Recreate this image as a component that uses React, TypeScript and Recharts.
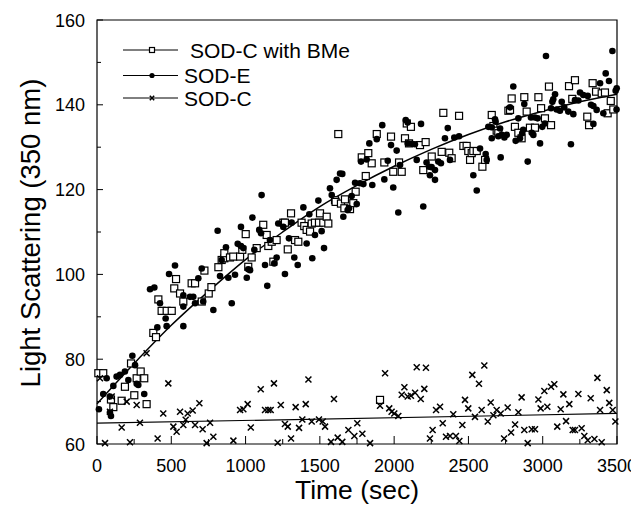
import React from "react";
import {
  ComposedChart,
  Scatter,
  Line,
  XAxis,
  YAxis,
  Label,
  Legend,
  ReferenceArea,
} from "recharts";

const FONT = "'Liberation Sans', Arial, Helvetica, sans-serif";

const seriesNames = ["SOD-C with BMe", "SOD-E", "SOD-C"];
const xTicks = [0, 250, 500, 750, 1000, 1250, 1500, 1750, 2000, 2250, 2500, 2750, 3000, 3250, 3500];
const yTicks = [60, 70, 80, 90, 100, 110, 120, 130, 140, 150, 160];

// [time (sec), light scattering]
const sodCBme: [number, number][] = [
  [9, 76.7], [42, 76.7], [94, 70.5], [110, 68.7], [166, 70.2], [188, 73.5], [229, 79], [251, 71.5],
  [267, 75.5], [294, 77.1], [318, 75.5], [334, 69.4], [379, 86.2], [397, 85.2], [413, 94.1], [435, 91.4],
  [469, 91.4], [503, 91.4], [520, 96.7], [532, 98.9], [559, 95.5], [581, 93.6], [637, 97.9], [660, 97.9],
  [705, 93.6], [723, 100.9], [752, 95.5], [770, 97], [817, 101.7], [839, 103.4], [857, 103.8], [857, 105],
  [895, 104], [917, 104.2], [963, 104.2], [978, 105.8], [1001, 109.5], [1018, 101.8], [1041, 104],
  [1075, 106.2], [1119, 111.7], [1142, 109.3], [1153, 106.7], [1176, 107.7], [1187, 103], [1209, 108.1],
  [1254, 112.2], [1265, 112.2], [1284, 105.9], [1306, 114.4], [1333, 108.1], [1355, 107.7], [1377, 112.2],
  [1395, 111.4], [1411, 110.5], [1434, 110.1], [1445, 112], [1467, 112.2], [1494, 112.2], [1501, 114.4],
  [1523, 112.2], [1546, 113.6], [1557, 112], [1602, 117.5], [1606, 117.1], [1624, 133.1], [1642, 116.7],
  [1665, 115.6], [1669, 117.7], [1703, 115.4], [1725, 116.8], [1741, 119.5], [1782, 127.6], [1809, 123.2],
  [1826, 128.6], [1849, 126.2], [1883, 133.1], [1905, 70.4], [1934, 126.4], [1979, 132.5], [1994, 124.2],
  [2033, 126.4], [2051, 124.2], [2073, 132.1], [2085, 135.6], [2100, 130.9], [2113, 134.8], [2174, 130.5],
  [2196, 124.6], [2212, 131.2], [2253, 127.8], [2320, 128.9], [2331, 138.1], [2371, 128.7], [2387, 127.4],
  [2437, 137.4], [2466, 130.3], [2488, 130.3], [2499, 129.1], [2511, 127], [2522, 128.6], [2533, 129.1],
  [2556, 129.1], [2594, 125.4], [2612, 127], [2657, 137.6], [2668, 135], [2690, 133.9], [2701, 133.3],
  [2769, 138.6], [2780, 138.8], [2791, 141.5], [2813, 134.8], [2836, 133.4], [2858, 132.1], [2876, 141.8],
  [2892, 138.4], [2914, 134.6], [2948, 134.6], [2971, 141.8], [2989, 139.2], [3015, 136.8], [3042, 144.3],
  [3056, 135.2], [3177, 144.4], [3199, 141.4], [3217, 145.8], [3300, 137.2], [3312, 135.2], [3336, 145.1],
  [3359, 143.1], [3397, 142.7], [3419, 142.9], [3437, 138], [3458, 140.9], [3475, 138.9],
];

const sodE: [number, number][] = [
  [13, 68.2], [42, 71.8], [65, 75.5], [87, 71.2], [87, 67.4], [94, 66.6], [110, 73.7], [132, 75.9],
  [155, 76.3], [188, 77.1], [211, 75.1], [238, 80.8], [256, 78.6], [267, 74.2], [278, 73.9], [318, 71.8],
  [357, 96.5], [386, 96.9], [406, 87.5], [424, 93.2], [462, 89.6], [469, 87.8], [485, 100.1], [525, 102.1],
  [581, 95.1], [581, 92.4], [581, 87.8], [626, 94.7], [648, 94.7], [660, 93.2], [682, 99.1], [705, 101.4],
  [715, 93.6], [783, 91.6], [812, 110.3], [828, 99.6], [839, 103.4], [868, 106.4], [884, 99.2], [907, 93.2],
  [929, 99.9], [947, 107.2], [969, 106.7], [969, 111.2], [985, 106.2], [1008, 99.2], [1018, 101.2],
  [1030, 101], [1046, 113.4], [1059, 105.8], [1092, 110.5], [1104, 109.7], [1108, 118.7], [1131, 102.2],
  [1146, 97.3], [1164, 108.1], [1193, 102.6], [1209, 104], [1220, 112], [1254, 111.2], [1265, 100.1],
  [1292, 108.5], [1310, 112.2], [1328, 104], [1351, 102.2], [1389, 115.8], [1411, 107.3], [1429, 114.2],
  [1449, 103.8], [1467, 109.3], [1490, 117.4], [1512, 110.2], [1528, 106.2], [1568, 120.3], [1580, 118.7],
  [1613, 122.3], [1636, 123.8], [1651, 123.7], [1658, 113.6], [1687, 115.2], [1696, 115.6], [1714, 118.5],
  [1737, 121.6], [1748, 116.6], [1770, 121.5], [1777, 126.6], [1793, 121.3], [1815, 127.1], [1833, 130.9],
  [1853, 121.1], [1883, 131.9], [1920, 135.2], [1934, 122.4], [1957, 126.8], [1979, 130.5], [1994, 120.5],
  [2017, 129.2], [2028, 114.6], [2039, 125.8], [2078, 136.4], [2091, 135.8], [2091, 130.9], [2118, 130.8],
  [2140, 130.7], [2152, 127], [2181, 135.5], [2196, 116], [2218, 126.4], [2235, 125.4], [2241, 123.4],
  [2252, 125.3], [2275, 124.6], [2275, 122.3], [2297, 126.6], [2315, 126.2], [2342, 132.1], [2361, 134.5],
  [2376, 127], [2405, 132.3], [2437, 132.6], [2533, 123.4], [2556, 119.8], [2578, 129.7], [2616, 128.4],
  [2623, 127], [2634, 134.8], [2657, 134.7], [2657, 132.1], [2679, 136.6], [2683, 136], [2701, 132.6],
  [2713, 134.4], [2717, 127.6], [2724, 132.9], [2742, 132.3], [2758, 132.9], [2780, 139.4], [2802, 144.3],
  [2818, 131.5], [2836, 136.8], [2847, 132.1], [2862, 133.3], [2869, 134.1], [2876, 140.2], [2899, 126.6],
  [2921, 137], [2926, 133.4], [2937, 132.9], [2948, 137], [2966, 136.8], [2982, 130.9], [2997, 134.8],
  [3015, 135.6], [3022, 151.5], [3056, 139.2], [3065, 140.7], [3071, 141.3], [3083, 142.5], [3094, 138.9],
  [3116, 138.6], [3128, 140.7], [3145, 139.4], [3172, 138.4], [3190, 130.7], [3206, 137.8], [3217, 141.1],
  [3240, 141], [3251, 142.9], [3273, 142.3], [3303, 142.1], [3325, 140], [3341, 139.7], [3341, 135.5],
  [3363, 138.8], [3386, 145.1], [3408, 138], [3424, 147.4], [3446, 145.6], [3469, 152.7], [3491, 143.3],
  [3497, 138.9], [3498, 143.9],
];

const sodC: [number, number][] = [
  [20, 75.5], [54, 60.2], [87, 67.6], [99, 71.2], [166, 63.9], [200, 70], [222, 60.4], [267, 69.2],
  [289, 65], [334, 81.4], [408, 61.3], [446, 67.2], [480, 74.3], [514, 64.1], [536, 62.9], [559, 67.6],
  [581, 64.5], [597, 65.7], [610, 67.2], [644, 67.9], [660, 64.5], [689, 69.6], [711, 63.5], [738, 60.2],
  [761, 65], [783, 61.7], [918, 60.8], [963, 68], [985, 68.2], [1014, 69.4], [1035, 63.9], [1102, 72.9],
  [1131, 68], [1153, 68], [1169, 68], [1191, 74.3], [1216, 60.3], [1237, 69.2], [1265, 64.7], [1284, 64.1],
  [1306, 61.3], [1337, 68.7], [1360, 63.8], [1382, 65.8], [1405, 69.4], [1423, 75.2], [1445, 65.3],
  [1494, 65.8], [1519, 65.3], [1535, 64.1], [1575, 60.5], [1595, 70.6], [1620, 61.5], [1651, 60.5],
  [1692, 63.3], [1732, 61.9], [1752, 64.9], [1786, 62.4], [1838, 60.2], [1905, 69], [1939, 76.7],
  [1967, 68.4], [1983, 67.6], [2001, 67.2], [2028, 66.6], [2051, 71.6], [2069, 73.4], [2091, 71.2],
  [2113, 71.4], [2141, 72.1], [2152, 78.1], [2179, 70.6], [2203, 73], [2214, 78], [2241, 61.3],
  [2259, 63.3], [2282, 68], [2309, 68.8], [2327, 64.9], [2349, 61.7], [2376, 61.9], [2398, 67],
  [2416, 61.9], [2439, 60.7], [2459, 64.5], [2477, 70.4], [2499, 68.4], [2526, 76.3], [2544, 66.4],
  [2571, 74.2], [2589, 68], [2607, 78.5], [2630, 65.3], [2650, 69.8], [2668, 66.8], [2690, 68],
  [2717, 67.2], [2740, 61.3], [2764, 68.6], [2787, 62.7], [2814, 64.6], [2836, 67.5], [2858, 71],
  [2876, 63.3], [2899, 60.2], [2926, 63.5], [2948, 63.5], [2971, 70.5], [2986, 68.4], [3011, 72.5],
  [3031, 68.8], [3056, 73.5], [3078, 74.1], [3098, 64.1], [3121, 68.2], [3139, 71.7], [3157, 65.4],
  [3179, 69.4], [3202, 63.3], [3217, 63.3], [3240, 71.8], [3262, 63.7], [3280, 61.9], [3303, 60.9],
  [3323, 70.8], [3348, 61.2], [3368, 75.6], [3386, 68], [3397, 60.4], [3431, 72.7], [3448, 69.7],
  [3471, 68], [3489, 65.3],
];

// fitted curves
const fitRise: [number, number][] = [
  [0, 69.5], [250, 79], [500, 88], [750, 96], [1000, 103.5], [1250, 110], [1500, 116], [1750, 121],
  [2000, 125.5], [2250, 129.5], [2500, 133], [2750, 136], [3000, 138.5], [3250, 140.7], [3500, 142.5],
];
const fitFlat: [number, number][] = [[0, 64.9], [3500, 67.2]];

const toPts = (rows: [number, number][]) => rows.map(([t, v]) => ({ t, v }));

const SquareDot = (p: any) => {
  const s = p.markSide ?? 7;
  return (
    <rect x={p.cx - s / 2} y={p.cy - s / 2} width={s} height={s} fill="#fff" stroke="#000" strokeWidth={1.2} />
  );
};
const CircleDot = (p: any) => <circle cx={p.cx} cy={p.cy} r={p.markR ?? 3.3} fill="#000" />;
const CrossDot = (p: any) => {
  const h = p.markHalf ?? 3;
  return (
    <path
      d={`M${p.cx - h},${p.cy - h}L${p.cx + h},${p.cy + h}M${p.cx - h},${p.cy + h}L${p.cx + h},${p.cy - h}`}
      stroke="#000"
      strokeWidth={1.5}
    />
  );
};

function XTick({ x, y, payload }: any) {
  const major = payload.value % 500 === 0;
  return (
    <g>
      <line x1={x} x2={x} y1={y} y2={y - (major ? 8 : 5)} stroke="#000" />
      {major && (
        <text x={x} y={y + 28} textAnchor="middle" fontSize={18} fontFamily={FONT} fill="#000">
          {payload.value}
        </text>
      )}
    </g>
  );
}

function YTick({ x, y, payload }: any) {
  const major = payload.value % 20 === 0;
  return (
    <g>
      <line x1={x} x2={x + (major ? 6 : 4)} y1={y} y2={y} stroke="#000" />
      {major && (
        <text x={x - 12} y={y + 6.5} textAnchor="end" fontSize={18} fontFamily={FONT} fill="#000">
          {payload.value}
        </text>
      )}
    </g>
  );
}

function LegendBox() {
  const rows = [12, 37.5, 60];
  const marks = [
    (cx: number, cy: number) => <SquareDot cx={cx} cy={cy} markSide={5} />,
    (cx: number, cy: number) => <CircleDot cx={cx} cy={cy} markR={2.6} />,
    (cx: number, cy: number) => <CrossDot cx={cx} cy={cy} markHalf={2.2} />,
  ];
  return (
    <svg width={260} height={76}>
      {rows.map((ry, i) => (
        <g key={i}>
          <line x1={5} x2={60} y1={ry} y2={ry} stroke="#000" strokeWidth={1} />
          {marks[i](34, ry)}
          <text x={i === 0 ? 72 : 66} y={ry + 7.5} fontSize={21} fontFamily={FONT} fill="#000">
            {seriesNames[i]}
          </text>
        </g>
      ))}
    </svg>
  );
}

export default function App() {
  return (
    <ComposedChart width={631} height={497} margin={{ top: 12, right: 22, bottom: 0, left: 0 }}>
      <XAxis
        type="number"
        dataKey="t"
        domain={[0, 3500]}
        ticks={xTicks}
        interval={0}
        height={61}
        axisLine={false}
        tickLine={false}
        tickSize={0}
        tickMargin={0}
        tick={<XTick />}
      >
        <Label
          content={() => (
            <text x={349} y={491} textAnchor="middle" fontSize={26.5} fontFamily={FONT} fill="#000">
              Time (sec)
            </text>
          )}
        />
      </XAxis>
      <YAxis
        type="number"
        dataKey="v"
        domain={[60, 160]}
        ticks={yTicks}
        interval={0}
        width={89}
        axisLine={false}
        tickLine={false}
        tickSize={0}
        tickMargin={0}
        tick={<YTick />}
      >
        <Label
          content={() => (
            <text
              x={32}
              y={225}
              transform="rotate(-90 32 225)"
              textAnchor="middle"
              fontSize={27.5}
              fontFamily={FONT}
              fill="#000"
            >
              Light Scattering (350 nm)
            </text>
          )}
        />
      </YAxis>
      <ReferenceArea x1={0} x2={3500} y1={60} y2={160} fill="none" stroke="#000" strokeWidth={1.2} />
      <Line
        data={toPts(fitRise)}
        dataKey="v"
        type="monotone"
        stroke="#000"
        strokeWidth={1.5}
        dot={false}
        activeDot={false}
        isAnimationActive={false}
        legendType="none"
      />
      <Line
        data={toPts(fitFlat)}
        dataKey="v"
        type="linear"
        stroke="#000"
        strokeWidth={1.2}
        dot={false}
        activeDot={false}
        isAnimationActive={false}
        legendType="none"
      />
      <Scatter name={seriesNames[0]} data={toPts(sodCBme)} dataKey="v" shape={SquareDot} isAnimationActive={false} />
      <Scatter name={seriesNames[1]} data={toPts(sodE)} dataKey="v" shape={CircleDot} isAnimationActive={false} />
      <Scatter name={seriesNames[2]} data={toPts(sodC)} dataKey="v" shape={CrossDot} isAnimationActive={false} />
      <Legend
        layout="vertical"
        align="center"
        verticalAlign="middle"
        content={<LegendBox />}
        wrapperStyle={{ left: 110, top: 30, width: 260, height: 76 }}
      />
    </ComposedChart>
  );
}
